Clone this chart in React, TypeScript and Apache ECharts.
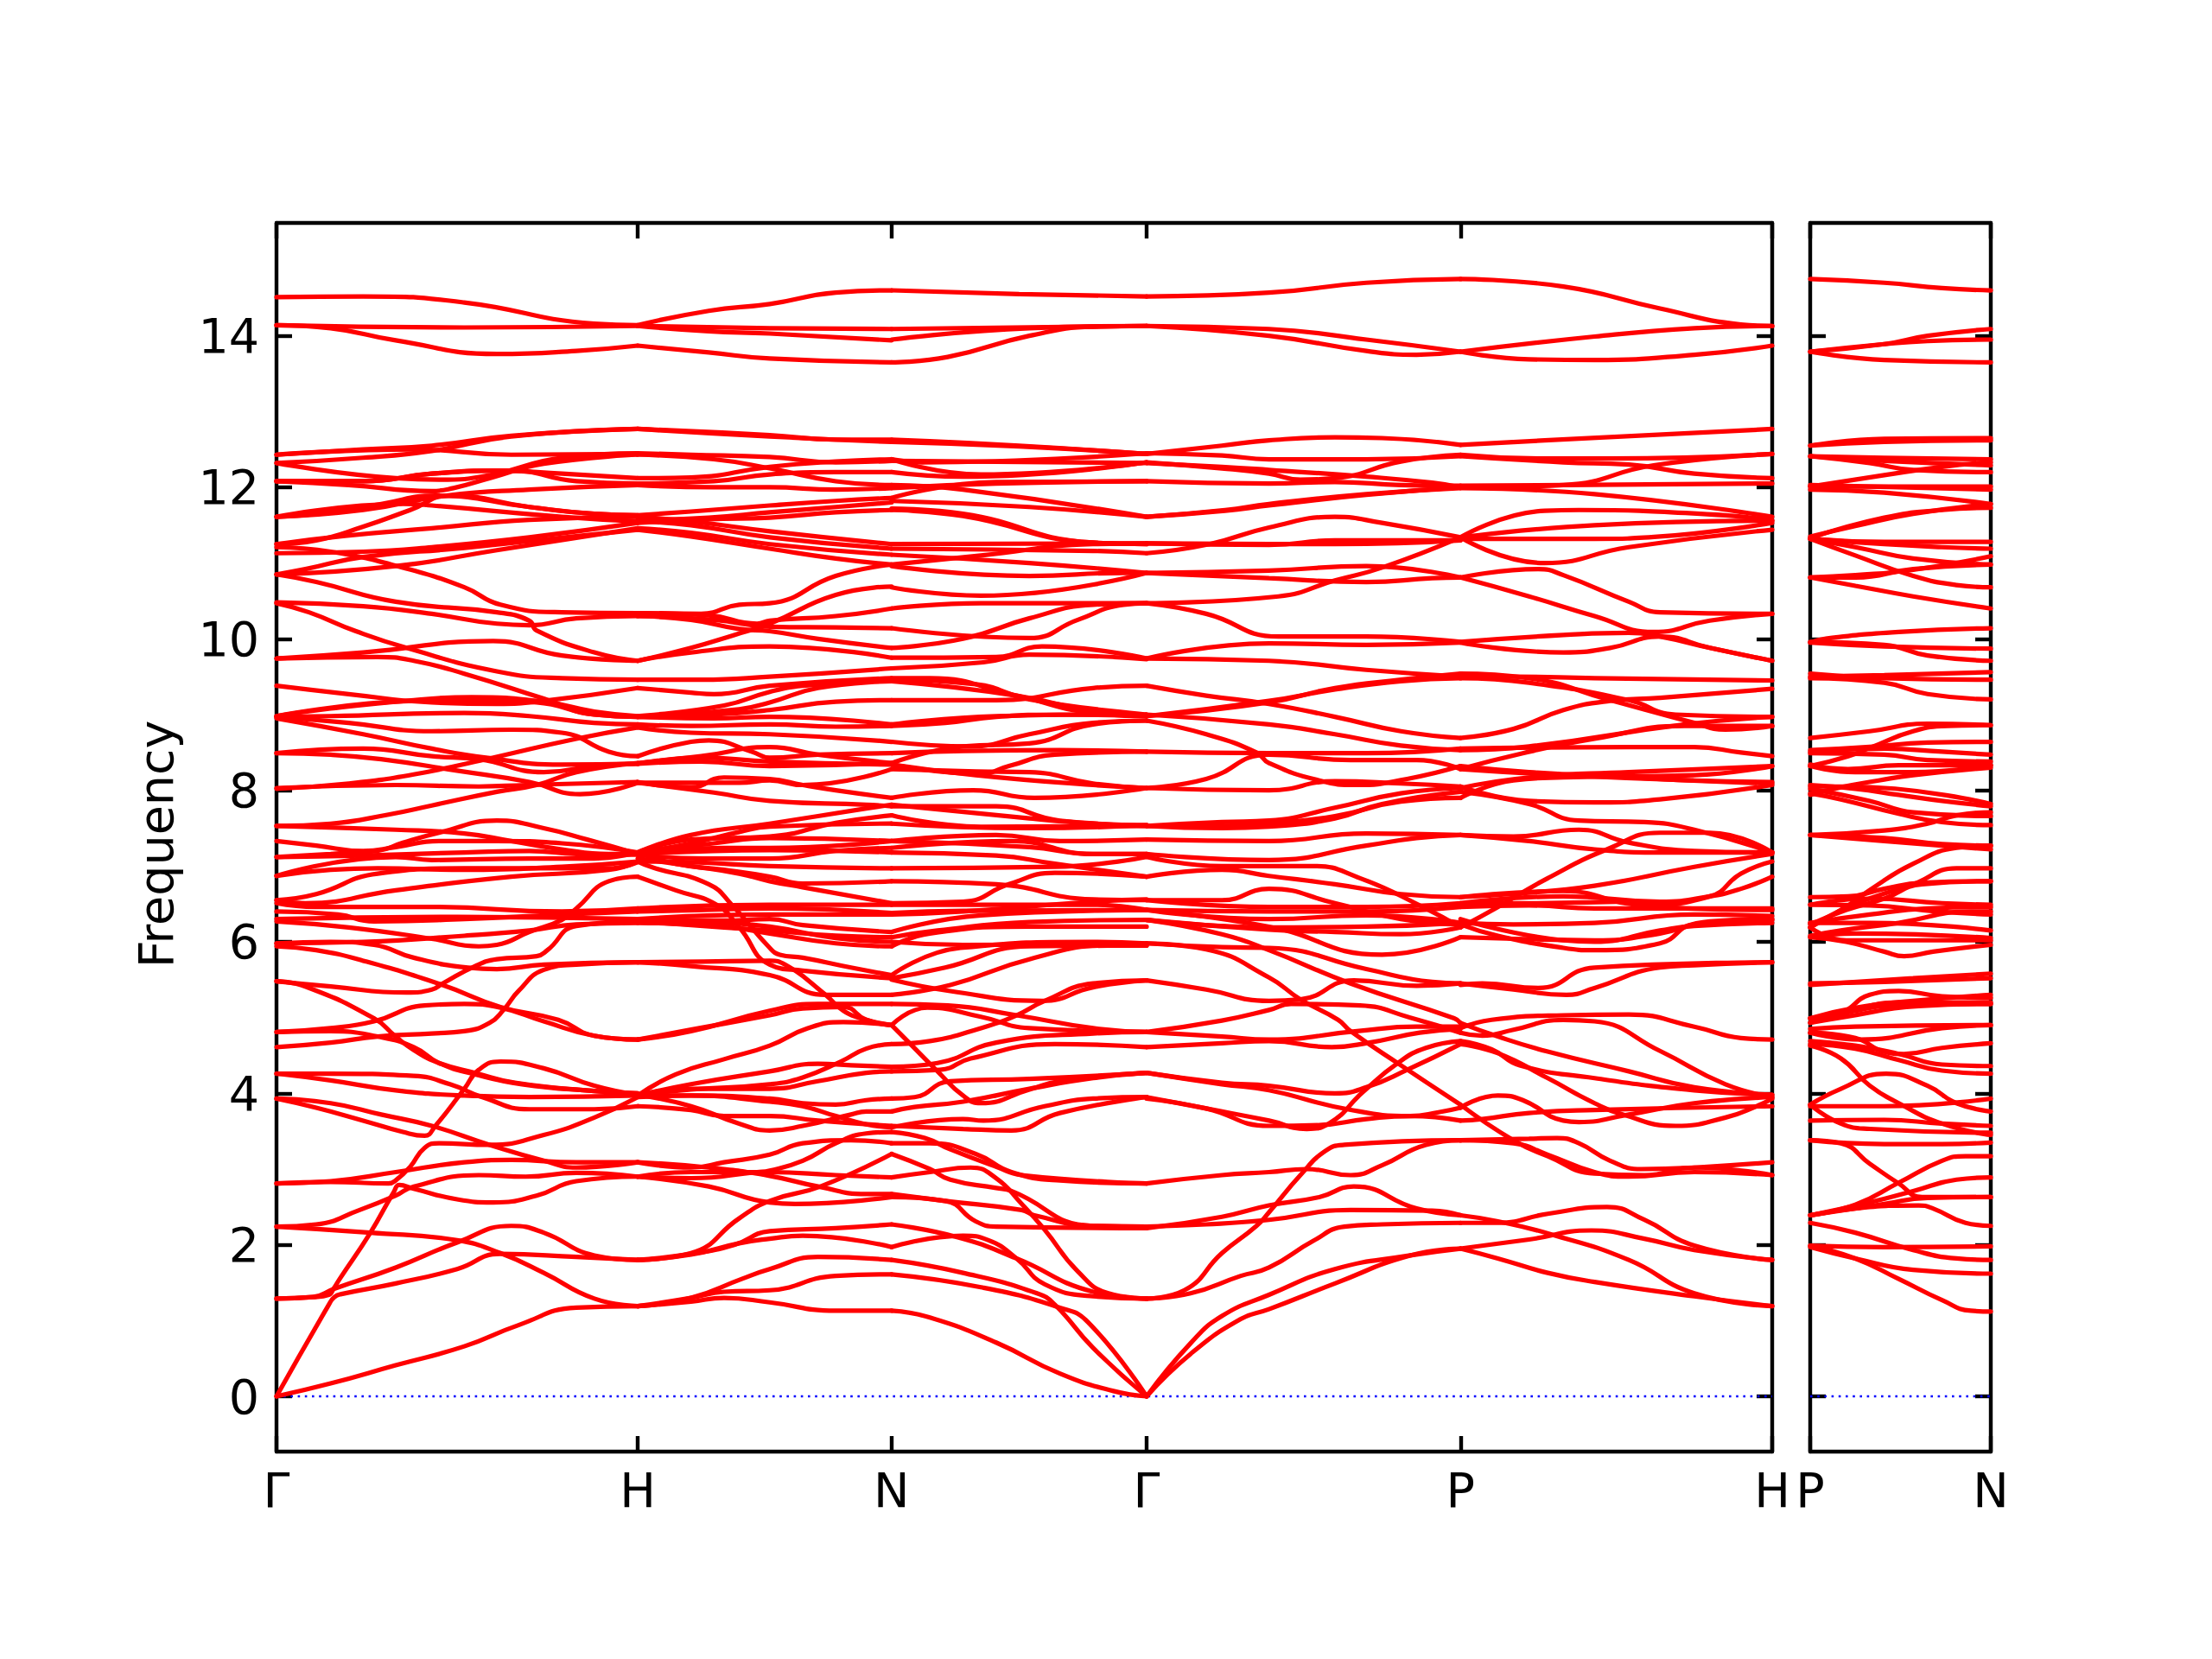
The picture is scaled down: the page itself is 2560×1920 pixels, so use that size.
import React, { useEffect, useRef } from "react";
import * as echarts from "echarts";

const xTicks = [0, 1, 1.703, 2.409, 3.278, 4.141];
const xLabels = ["Γ", "H", "N", "Γ", "P", "H"];
const sideTicks = [0, 0.5];
const sideLabels = ["P", "N"];
const yTicks = [0, 2, 4, 6, 8, 10, 12, 14];

// each row: t (percent along the path segment), frequency, t, frequency ...
const gammaH: number[][] = [
[0,0,15,.17,33,.41,52,.66,67,.94,83,1.17,100,1.19],
[0,0,14.5,1.21,16,1.31,18,1.35,33,1.49,50,1.68,62,1.88,83,1.84,100,1.80],
[0,1.29,10,1.31,14.5,1.34,15.8,1.42,17.5,1.55,26,2.16,32.5,2.7,34,2.79,38,2.74,50,2.6,60,2.56,72,2.65,83,2.84,100,2.9],
[0,1.29,10,1.31,16,1.42,33,1.70,50,2.03,65,2.25,74,2.16,88,1.86,100,1.80],
[0,2.24,26,2.16,50,2.06,62,1.89,74,1.63,88,1.29,100,1.19],
[0,2.24,11,2.27,23,2.46,33,2.65,38,2.77,56,2.92,69,2.9,83,2.95,100,2.9],
[0,2.81,15,2.84,33,2.96,52,3.09,65,3.12,83,3.09,100,3.09],
[0,2.81,15,2.83,31,2.81,33,2.85,37,3.03,41,3.28,45,3.34,59,3.32,74,3.45,88,3.68,100,3.95],
[0,3.93,11,3.81,24,3.64,35,3.49,41,3.44,44,3.57,52,4.06,56,4.31,62,4.42,74,4.33,88,4.10,100,3.98],
[0,3.93,15,3.87,29,3.72,43,3.57,59,3.32,74,3.11,83,3.02,100,3.09],
[0,4.26,15,4.26,38,4.23,48,4.12,57,3.95,70,3.79,88,3.79,100,3.83],
[0,4.26,15,4.17,33,4.04,52,3.97,70,3.95,100,3.97],
[0,4.61,15,4.67,28,4.75,43,4.79,52,4.82,59,4.93,63,5.11,67,5.35,74,5.63,83,5.70,100,5.73],
[0,5.48,8,5.41,27,4.99,33,4.75,38,4.57,45,4.40,55,4.27,66,4.14,88,4.03,100,4.0],
[0,4.81,15,4.82,28,4.75,38,4.61,45,4.40,55,4.25,68,4.12,88,4.03,100,4.0],
[0,4.81,15,4.86,27,4.95,41,5.16,52,5.18,62,5.13,74,4.95,88,4.76,100,4.71],
[0,5.94,11,5.89,24,5.75,46,5.43,62,5.14,78,4.97,88,4.76,100,4.71],
[0,5.98,15,6.0,27,5.96,38,5.79,53,5.66,61,5.64,74,5.70,100,5.73],
[0,5.48,15,5.41,36,5.33,43,5.37,46,5.45,55,5.68,61,5.77,72,5.81,75,5.89,83,6.21,100,6.27],
[0,6.27,20,6.19,43,6.04,56,5.94,61,5.96,70,6.13,79,6.29,83,6.44,92,6.80,100,6.86],
[0,5.98,24,6.0,52,6.08,70,6.15,83,6.23,100,6.25],
[0,6.40,17,6.36,27,6.27,52,6.30,79,6.36,100,6.40],
[0,6.51,11,6.46,43,6.46,79,6.40,100,6.44],
[0,6.30,50,6.33,100,6.30],
[0,6.55,8,6.51,33,6.68,65,6.86,92,6.95,100,7.06],
[0,6.55,11,6.63,28,6.90,52,6.97,92,6.97,100,7.05],
[0,6.87,15,6.95,28,6.97,52,6.95,79,6.99,100,7.06],
[0,7.12,24,7.14,52,7.18,70,7.2,83,7.16,100,7.15],
[0,6.87,33,7.12,43,7.08,70,7.1,88,7.1,100,7.18],
[0,7.33,11,7.27,24,7.2,33,7.25,45,7.33,61,7.33,79,7.3,100,7.18],
[0,7.53,33,7.48,52,7.43,65,7.33,79,7.22,92,7.16,100,7.16],
[0,7.12,15,7.16,28,7.2,35,7.31,45,7.44,61,7.6,74,7.5,86,7.35,100,7.16],
[0,7.53,15,7.56,31,7.68,43,7.8,61,7.98,72,8.07,83,8.24,100,8.36],
[0,8.49,24,8.55,43,8.45,56,8.41,74,8.24,88,8.32,100,8.35],
[0,8.49,15,8.47,29,8.41,50,8.26,70,8.11,84,7.95,100,8.1],
[0,8.02,20,8.09,38,8.21,58,8.41,83,8.68,100,8.83],
[0,8.03,33,8.07,56,8.05,69,8.07,100,8.11],
[0,8.97,15,8.98,52,9.02,70,8.98,88,8.89,100,8.87],
[0,8.97,20,8.89,43,8.78,65,8.8,79,8.76,92,8.51,100,8.45],
[0,8.95,24,8.74,43,8.55,58,8.43,79,8.34,100,8.35],
[0,8.98,15,9.08,38,9.19,54,9.23,74,9.17,88,9.04,100,8.98],
[0,9.38,20,9.27,43,9.16,61,9.14,74,9.18,100,9.35],
[0,8.98,38,9.18,54,9.19,72,9.16,88,9.0,100,8.97],
[0,9.74,28,9.76,38,9.71,52,9.54,74,9.21,88,9.0,100,8.97],
[0,9.74,24,9.82,60,9.97,79,9.78,100,9.71],
[0,10.47,9,10.35,22,10.1,36,9.88,61,9.57,79,9.48,100,9.46],
[0,10.85,11,10.75,33,10.49,61,10.35,70,10.24,72,10.11,88,9.82,100,9.71],
[0,10.48,24,10.43,43,10.33,61,10.20,70,10.18,83,10.27,100,10.30],
[0,11.21,15,11.15,35,10.94,52,10.68,62,10.45,79,10.35,100,10.34],
[0,10.85,33,10.96,61,11.17,100,11.46],
[0,10.85,8,10.92,24,11.08,52,11.2,100,11.44],
[0,11.13,24,11.15,43,11.21,70,11.34,100,11.53],
[0,11.25,19,11.36,43,11.46,70,11.57,100,11.61],
[0,11.25,11,11.3,24,11.48,37,11.70,48,11.89,70,11.74,88,11.65,100,11.63],
[0,11.61,15,11.67,29,11.78,44,11.89,70,11.74,88,11.65,100,11.63],
[0,11.61,35,11.78,43,11.76,79,11.61,100,11.55],
[0,11.61,24,11.7,47,11.89,70,11.97,100,12.03],
[0,12.08,20,12.03,43,11.95,49,11.99,59,12.12,74,12.31,100,12.43],
[0,12.08,24,12.08,43,12.18,61,12.22,79,12.18,100,12.12],
[0,12.08,24,12.08,43,12.18,65,12.22,83,12.08,100,12.05],
[0,12.32,33,12.12,45,12.1,59,12.16,79,12.39,100,12.45],
[0,12.32,24,12.39,43,12.48,65,12.67,100,12.77],
[0,12.43,24,12.5,43,12.55,65,12.68,100,12.77],
[0,12.43,38,12.5,65,12.43,100,12.44],
[0,14.51,24,14.52,52,14.44,88,14.16,100,14.14],
[0,14.14,52,14.11,100,14.13],
[0,14.14,15,14.1,33,13.94,61,13.76,83,13.8,100,13.87],
];

const hN: number[][] = [
[0,1.19,21,1.25,34,1.30,52,1.24,78,1.13,100,1.13],
[0,1.19,21,1.3,34,1.38,52,1.40,78,1.59,100,1.61],
[0,1.19,21,1.30,41,1.55,52,1.68,71,1.84,100,1.80],
[0,1.80,21,1.88,38,2.0,52,2.18,78,2.22,100,2.27],
[0,1.80,21,1.87,40,2.02,52,2.08,65,2.12,100,1.97],
[0,1.80,21,1.89,40,2.35,52,2.58,72,2.77,100,3.20],
[0,2.90,28,2.77,52,2.56,62,2.54,100,2.63],
[0,3.09,28,3.02,52,2.91,71,2.77,90,2.67,100,2.67],
[0,2.90,21,2.96,40,2.96,52,2.96,78,2.92,100,2.89],
[0,2.90,21,2.88,47,2.96,52,2.98,65,3.11,78,3.34,90,3.47,100,3.49],
[0,3.09,21,3.02,34,3.09,52,3.19,65,3.34,84,3.38,100,3.34],
[0,3.98,21,3.83,40,3.6,52,3.51,65,3.57,84,3.72,90,3.76,100,3.76],
[0,3.83,21,3.78,34,3.70,52,3.70,71,3.64,100,3.57],
[0,3.97,21,3.97,52,3.89,65,3.83,78,3.70,90,3.59,100,3.55],
[0,3.95,21,3.97,52,3.93,65,3.87,78,3.85,90,3.91,100,3.93],
[0,3.98,21,4.06,52,4.06,71,4.16,90,4.27,100,4.29],
[0,3.98,21,4.05,52,4.12,65,4.21,80,4.42,90,4.59,100,4.65],
[0,3.97,21,4.12,52,4.29,71,4.39,84,4.37,100,4.35],
[0,3.97,15,4.25,34,4.45,52,4.63,67,4.86,81,4.94,100,4.9],
[0,4.71,21,4.82,52,5.09,71,5.18,100,5.18],
[0,4.71,21,4.84,52,5.03,65,5.12,81,5.14,90,4.97,100,4.9],
[0,5.73,26,5.74,52,5.75,58,5.7,74,5.3,81,5.09,90,4.97,100,4.9],
[0,5.73,21,5.68,52,5.56,74,5.3,100,5.30],
[0,7.06,6,6.98,28,6.76,37,6.49,52,5.92,56,5.83,65,5.79,84,5.66,100,5.56],
[0,6.86,15,6.68,31,6.49,40,6.19,52,5.7,65,5.62,100,5.52],
[0,6.27,34,6.19,52,6.15,78,6.08,100,6.06],
[0,6.25,34,6.2,52,6.11,78,5.98,100,5.94],
[0,6.30,34,6.28,52,6.30,65,6.22,100,6.13],
[0,6.40,26,6.42,52,6.44,100,6.38],
[0,6.44,52,6.49,100,6.49],
[0,6.30,52,6.36,100,6.36],
[0,6.29,34,6.25,52,6.2,78,6.05,100,6.0],
[0,7.18,21,7.41,52,7.56,90,7.76,100,7.81],
[0,7.18,21,7.35,52,7.39,78,7.57,100,7.67],
[0,7.18,21,7.3,40,7.45,52,7.52,100,7.56],
[0,7.18,30,7.3,52,7.37,100,7.33],
[0,7.18,34,7.24,52,7.24,100,7.33],
[0,7.15,26,7.1,52,7.1,78,7.2,100,7.24],
[0,7.16,30,7.2,52,7.21,100,7.18],
[0,7.06,21,7.05,52,7.0,100,6.97],
[0,7.18,15,7.03,34,6.95,52,6.86,65,6.77,100,6.8],
[0,7.1,21,7.0,40,6.9,52,6.8,65,6.72,100,6.51],
[0,8.1,30,7.97,52,7.86,90,7.81,100,7.79],
[0,8.11,21,8.04,34,8.17,52,8.15,65,8.07,78,8.0,100,7.9],
[0,8.1,21,8.1,40,8.1,52,8.13,65,8.07,100,8.28],
[0,8.35,25,8.38,52,8.32,100,8.36],
[0,8.35,25,8.43,52,8.38,100,8.34],
[0,8.45,21,8.64,28,8.66,45,8.51,52,8.43,71,8.47,100,8.49],
[0,8.36,25,8.45,52,8.57,71,8.47,100,8.36],
[0,8.83,21,8.76,52,8.74,100,8.64],
[0,8.87,21,8.85,52,8.87,78,8.84,100,8.85],
[0,8.97,30,8.95,52,8.97,100,8.87],
[0,8.97,30,9.0,52,9.06,78,9.17,100,9.19],
[0,8.97,40,9.07,52,9.16,71,9.35,100,9.44],
[0,8.98,34,9.12,52,9.3,65,9.38,100,9.46],
[0,9.35,21,9.29,30,9.27,52,9.38,100,9.48],
[0,9.46,25,9.46,52,9.5,100,9.61],
[0,9.71,21,9.82,52,9.9,100,9.75],
[0,9.71,21,9.88,38,10.05,52,10.2,78,10.58,100,10.69],
[0,10.30,21,10.25,40,10.13,52,10.1,71,10.0,100,9.88],
[0,10.34,28,10.31,47,10.2,52,10.24,78,10.3,100,10.4],
[0,10.30,30,10.25,52,10.16,78,10.15,100,10.14],
[0,10.34,25,10.33,40,10.45,52,10.47,78,10.83,100,10.98],
[0,11.44,21,11.35,52,11.19,78,11.06,100,10.98],
[0,11.46,21,11.4,52,11.25,100,11.11],
[0,11.55,21,11.5,52,11.34,100,11.19],
[0,11.61,21,11.55,52,11.42,100,11.25],
[0,11.53,28,11.58,52,11.6,78,11.67,100,11.7],
[0,11.57,28,11.6,52,11.67,78,11.74,100,11.8],
[0,11.63,21,11.68,52,11.76,78,11.82,100,11.86],
[0,12.03,30,12.0,52,12.0,78,11.97,100,11.99],
[0,12.05,30,12.08,52,12.17,78,12.2,100,12.2],
[0,12.12,21,12.13,52,12.27,78,12.34,100,12.37],
[0,12.43,30,12.37,52,12.25,78,12.08,100,12.03],
[0,12.45,21,12.43,52,12.4,78,12.33,100,12.35],
[0,12.77,52,12.69,78,12.63,100,12.63],
[0,12.77,52,12.67,100,12.6],
[0,14.13,52,14.1,100,14.09],
[0,14.13,28,14.06,52,14.03,100,13.94],
[0,14.14,28,14.33,52,14.42,78,14.57,100,14.6],
[0,13.87,28,13.78,52,13.7,100,13.65],
];

const nGamma: number[][] = [
[0,1.13,15,1.04,41,.71,66,.30,87,.07,100,0],
[0,1.61,35,1.44,66,1.17,77,.98,100,0],
[0,1.80,28,1.63,57,1.36,64,1.21,79,.64,100,0],
[0,1.97,28,2.12,38,2.06,49,1.82,60,1.48,79,1.32,100,1.29],
[0,2.27,26,2.1,49,1.82,79,1.38,100,1.29],
[0,2.89,15,2.96,31,3.02,41,2.88,51,2.54,60,2.2,73,1.65,85,1.36,100,1.29],
[0,3.20,15,3.0,23,2.86,41,2.75,47,2.71,79,2.25,100,2.24],
[0,2.67,21,2.58,51,2.46,56,2.39,79,2.25,100,2.24],
[0,2.63,21,2.58,33,2.31,41,2.24,100,2.22],
[0,3.34,15,3.34,33,3.2,47,2.96,66,2.85,100,2.81],
[0,3.49,13,3.41,23,3.26,41,3.03,51,2.92,100,2.81],
[0,3.57,28,3.53,47,3.51,66,3.74,100,3.95],
[0,3.55,28,3.66,36,3.64,60,3.83,79,3.93,100,3.95],
[0,3.76,9,3.82,28,3.89,54,4.06,79,4.2,100,4.27],
[0,3.93,9,3.95,23,4.16,54,4.19,100,4.27],
[0,4.9,8,4.63,18,4.29,28,3.97,35,3.87,54,4.05,66,4.16,100,4.27],
[0,4.29,19,4.31,31,4.46,64,4.65,100,4.61],
[0,4.35,18,4.4,41,4.67,79,4.79,100,4.81],
[0,4.65,15,4.69,35,4.86,49,5.03,60,5.22,79,5.45,100,5.49],
[0,5.18,22,5.16,49,5.03,79,4.86,100,4.81],
[0,4.9,14,5.13,35,5.01,54,4.86,100,4.81],
[0,5.3,23,5.43,54,5.77,85,5.95,100,5.95],
[0,5.5,23,5.35,59,5.22,79,5.4,100,5.49],
[0,5.52,21,5.66,54,5.94,100,5.95],
[0,5.56,27,5.92,79,6.0,100,5.98],
[0,5.94,15,6.11,54,6.2,100,6.2],
[0,6.0,28,5.96,100,5.98],
[0,6.06,18,6.15,54,6.26,100,6.29],
[0,6.13,35,6.35,100,6.42],
[0,6.38,28,6.41,100,6.42],
[0,6.36,28,6.4,79,6.53,100,6.56],
[0,6.49,35,6.49,79,6.49,100,6.42],
[0,6.51,28,6.53,46,6.76,64,6.91,100,6.86],
[0,6.8,41,6.76,79,6.56,100,6.55],
[0,6.97,64,6.99,100,7.12],
[0,7.18,41,7.14,64,7.03,100,6.86],
[0,7.33,54,7.25,79,7.16,100,7.16],
[0,7.24,47,7.33,79,7.16,100,7.16],
[0,7.33,41,7.41,66,7.33,100,7.35],
[0,7.56,54,7.5,100,7.54],
[0,7.67,35,7.52,100,7.53],
[0,7.81,54,7.63,79,7.56,100,7.53],
[0,7.79,41,7.79,66,7.6,100,7.54],
[0,7.9,32,8.0,56,7.9,100,8.03],
[0,8.28,33,8.25,54,8.24,79,8.09,100,8.03],
[0,8.34,33,8.2,79,8.07,100,8.03],
[0,8.34,35,8.22,46,8.32,64,8.47,100,8.51],
[0,8.49,28,8.52,66,8.53,100,8.51],
[0,8.36,28,8.58,54,8.62,79,8.87,100,8.92],
[0,8.64,31,8.58,54,8.74,79,8.89,100,8.92],
[0,8.85,21,8.89,41,8.97,66,9.0,100,8.98],
[0,8.87,41,8.98,79,9.0,100,9.0],
[0,9.19,41,9.19,79,9.35,100,9.38],
[0,9.44,49,9.25,79,9.04,100,8.98],
[0,9.48,15,9.48,49,9.25,79,9.02,100,8.98],
[0,9.46,33,9.4,54,9.2,100,9.0],
[0,9.61,36,9.69,54,9.79,100,9.73],
[0,9.75,41,9.76,59,9.9,100,9.74],
[0,9.88,28,10.0,54,10.27,79,10.45,100,10.47],
[0,10.14,54,10.01,73,10.25,91,10.45,100,10.47],
[0,10.4,35,10.47,100,10.47],
[0,10.68,35,10.57,100,10.87],
[0,10.96,54,10.83,91,10.87,100,10.87],
[0,11.11,54,11.0,100,10.87],
[0,10.98,35,11.1,79,11.25,100,11.26],
[0,11.19,79,11.16,100,11.13],
[0,11.25,100,11.26],
[0,11.70,28,11.62,79,11.27,100,11.25],
[0,11.72,28,11.65,79,11.27,100,11.25],
[0,11.82,54,11.74,100,11.61],
[0,12.03,28,11.97,100,11.61],
[0,11.86,41,12.07,100,12.08],
[0,11.99,41,12.05,100,12.08],
[0,12.2,28,12.14,100,12.33],
[0,12.37,35,12.17,100,12.33],
[0,12.35,100,12.32],
[0,12.37,12,12.33,100,12.45],
[0,12.63,50,12.55,100,12.44],
[0,12.6,50,12.54,100,12.44],
[0,14.6,50,14.55,100,14.52],
[0,14.09,100,14.13],
[0,13.95,54,14.1,100,14.13],
[0,13.65,22,13.72,54,14.0,79,14.12,100,14.13],
];

const gammaP: number[][] = [
[0,0,14,.7,24,1.06,39,1.34,60,1.68,84,1.86,100,1.95],
[0,0,14,.56,30,1.02,39,1.15,60,1.49,84,1.86,100,1.95],
[0,1.29,14,1.36,30,1.59,39,1.70,53,2.05,63,2.24,75,2.27,100,2.29],
[0,1.29,12,1.4,24,1.89,35,2.25,39,2.43,49,2.92,57,3.24,63,3.32,100,3.38],
[0,2.24,19,2.27,39,2.33,65,2.46,91,2.45,100,2.39],
[0,2.22,24,2.37,39,2.52,55,2.63,66,2.77,86,2.48,100,2.39],
[0,2.81,24,2.92,39,2.96,51,3.0,65,2.92,75,3.05,89,3.32,100,3.38],
[0,3.95,19,3.8,39,3.64,51,3.53,58,3.6,69,4.02,80,4.4,89,4.6,100,4.69],
[0,3.93,19,3.8,39,3.57,55,3.58,70,3.66,84,3.7,100,3.64],
[0,4.27,24,4.14,39,4.1,60,4.0,70,4.08,83,4.31,100,4.65],
[0,4.27,24,4.12,39,4.04,64,3.79,84,3.70,93,3.75,100,3.81],
[0,4.81,24,4.96,39,5.1,46,5.18,68,5.16,84,5.0,100,4.80],
[0,4.61,24,4.66,39,4.69,59,4.61,71,4.67,87,4.8,100,4.85],
[0,4.81,24,4.75,39,4.71,67,4.82,86,4.88,100,4.88],
[0,5.49,19,5.37,39,5.22,49,5.24,66,5.49,86,5.42,100,5.45],
[0,5.98,19,5.9,39,5.53,49,5.24,61,4.97,65,4.82,81,4.37,100,3.85],
[0,6.29,24,6.1,39,5.89,65,5.45,98,4.99,100,4.93],
[0,5.98,24,5.93,39,5.92,70,5.64,91,5.47,100,5.45],
[0,6.42,39,6.2,75,5.83,100,6.06],
[0,6.29,39,6.19,70,6.2,100,6.25],
[0,6.29,39,6.16,60,6.13,81,6.1,100,6.19],
[0,6.42,39,6.3,70,6.35,100,6.25],
[0,6.42,39,6.4,70,6.4,100,6.46],
[0,6.55,39,6.46,70,6.46,100,6.51],
[0,6.55,24,6.55,39,6.7,60,6.51,81,6.3,100,6.23],
[0,6.86,24,6.95,39,6.87,60,6.76,81,6.63,100,6.59],
[0,7.12,24,7.0,39,7.0,53,7.0,68,6.84,88,6.46,100,6.19],
[0,7.16,39,7.08,70,7.27,86,7.37,100,7.41],
[0,7.35,39,7.33,70,7.43,100,7.41],
[0,7.53,24,7.58,39,7.6,60,7.77,81,7.96,100,8.03],
[0,7.53,24,7.5,39,7.52,60,7.63,75,7.82,100,7.98],
[0,7.53,24,7.53,39,7.56,60,7.66,81,7.85,100,7.9],
[0,8.03,39,8.0,60,8.12,81,8.09,100,8.05],
[0,8.03,19,8.15,39,8.47,65,8.4,86,8.4,100,8.28],
[0,8.92,19,8.74,35,8.5,39,8.36,55,8.13,67,8.07,83,8.15,100,8.32],
[0,8.51,39,8.49,70,8.49,100,8.55],
[0,9.0,39,8.87,60,8.74,81,8.59,100,8.53],
[0,9.38,19,9.25,39,9.14,60,8.97,81,8.78,100,8.69],
[0,8.98,39,9.16,60,9.35,81,9.46,100,9.54],
[0,8.98,39,9.18,60,9.33,81,9.44,100,9.48],
[0,9.74,39,9.71,70,9.59,100,9.5],
[0,9.74,39,9.94,70,9.92,100,9.95],
[0,10.47,19,10.33,42,10.03,70,10.03,100,9.96],
[0,10.47,42,10.56,60,10.77,75,10.94,100,11.34],
[0,10.87,39,10.9,70,10.96,100,10.81],
[0,10.87,39,10.8,70,10.75,91,10.8,100,10.81],
[0,11.26,39,11.25,60,11.25,100,11.3],
[0,11.26,39,11.24,60,11.3,100,11.3],
[0,11.13,20,11.25,39,11.47,60,11.61,75,11.53,100,11.34],
[0,11.61,25,11.7,39,11.78,70,11.91,100,11.99],
[0,11.61,25,11.69,39,11.76,70,11.9,100,12.0],
[0,12.08,39,12.05,60,12.07,81,12.03,100,12.02],
[0,12.32,24,12.27,39,12.23,70,12.14,91,12.06,100,12.0],
[0,12.33,24,12.25,39,12.18,49,12.1,60,12.12,81,12.34,100,12.43],
[0,12.45,24,12.42,39,12.37,70,12.37,100,12.41],
[0,12.44,24,12.55,39,12.62,60,12.66,75,12.65,100,12.56],
[0,14.52,39,14.57,70,14.7,100,14.75],
[0,14.13,39,14.09,70,13.95,100,13.79],
[0,14.13,39,14.0,70,13.8,86,13.75,100,13.79],
];

const pH: number[][] = [
[0,1.95,12,1.82,28,1.63,43,1.51,75,1.32,100,1.19],
[0,1.95,22,2.07,42,2.19,59,2.08,75,1.93,100,1.8],
[0,2.39,12,2.31,29,2.14,54,1.8,75,1.36,100,1.19],
[0,2.29,12,2.29,28,2.41,47,2.5,59,2.33,75,1.99,100,1.8],
[0,3.38,22,3.4,31,3.41,38,3.34,48,3.11,58,3.0,75,3.02,100,3.09],
[0,3.38,17,3.34,28,3.19,43,2.96,54,2.9,75,2.96,100,2.92],
[0,3.85,17,3.38,28,3.17,43,2.94,59,2.92,75,3.02,100,2.92],
[0,3.64,7,3.66,22,3.74,43,3.78,100,3.83],
[0,3.81,12,3.97,20,3.91,33,3.64,38,3.62,54,3.72,75,3.87,100,3.95],
[0,4.69,10,4.58,19,4.37,43,4.2,75,4.04,100,3.98],
[0,4.65,12,4.53,28,4.2,43,3.87,52,3.72,69,3.57,85,3.68,95,3.83,100,3.93],
[0,4.93,12,4.75,28,4.55,54,4.29,75,4.08,100,3.98],
[0,4.8,7,4.76,17,4.84,33,4.97,43,4.95,64,4.56,85,4.12,100,3.95],
[0,4.86,10,4.97,33,5.03,54,5.04,75,4.88,90,4.73,100,4.71],
[0,5.45,17,5.37,34,5.3,43,5.39,64,5.66,75,5.69,100,5.73],
[0,5.43,7,5.45,25,5.39,43,5.66,100,5.73],
[0,6.19,12,6.46,28,6.84,47,7.22,64,7.44,80,7.44,100,7.18],
[0,6.23,12,6.08,33,5.92,43,5.89,64,5.98,75,6.23,100,6.29],
[0,6.06,17,6.04,43,6.02,64,6.11,80,6.27,100,6.3],
[0,6.25,17,6.23,43,6.25,75,6.36,100,6.34],
[0,6.3,33,6.02,43,6.0,64,6.15,75,6.21,100,6.25],
[0,6.46,22,6.48,43,6.44,100,6.44],
[0,6.51,22,6.51,59,6.53,72,6.44,100,6.42],
[0,6.59,16,6.63,43,6.74,75,6.99,100,7.16],
[0,6.59,33,6.67,59,6.49,80,6.6,90,6.9,100,7.06],
[0,6.51,33,6.6,64,6.53,80,6.6,90,6.7,100,6.86],
[0,7.41,17,7.39,38,7.48,54,7.31,75,7.2,100,7.18],
[0,7.41,22,7.33,43,7.22,64,7.18,100,7.18],
[0,7.98,22,7.82,38,7.6,59,7.58,75,7.48,100,7.18],
[0,8.05,22,7.86,43,7.84,64,7.88,100,8.07],
[0,8.03,22,8.17,54,8.24,100,8.32],
[0,7.9,17,8.13,33,8.17,75,8.2,100,8.32],
[0,8.32,22,8.24,54,8.17,85,8.11,100,8.09],
[0,8.28,33,8.2,75,8.13,100,8.11],
[0,8.55,54,8.57,75,8.57,90,8.5,100,8.45],
[0,8.28,20,8.49,43,8.68,72,8.85,100,8.85],
[0,8.53,22,8.58,72,8.87,100,8.97],
[0,8.69,17,8.81,33,9.06,48,9.18,64,9.22,100,9.34],
[0,9.5,17,9.5,43,9.48,100,9.45],
[0,9.54,22,9.48,48,9.19,75,8.89,85,8.8,100,8.85],
[0,9.48,22,9.42,54,9.19,69,9.0,100,8.97],
[0,9.95,33,9.82,48,9.88,64,10.03,80,9.88,100,9.71],
[0,9.96,33,10.05,54,10.08,64,10.03,80,9.88,100,9.71],
[0,10.81,22,10.56,43,10.3,62,10.09,80,10.24,100,10.33],
[0,10.81,25,10.92,33,10.84,54,10.49,64,10.35,100,10.33],
[0,11.34,27,11.0,54,11.21,100,11.44],
[0,11.32,43,11.32,64,11.35,100,11.53],
[0,11.34,43,11.5,100,11.56],
[0,11.34,27,11.69,38,11.7,85,11.63,100,11.56],
[0,11.99,43,11.91,100,11.61],
[0,12.02,100,12.05],
[0,12.0,33,12.03,62,12.29,100,12.44],
[0,12.43,27,12.38,48,12.38,100,12.44],
[0,12.41,33,12.33,54,12.3,75,12.18,100,12.12],
[0,12.56,27,12.62,100,12.77],
[0,14.75,33,14.65,64,14.36,90,14.15,100,14.13],
[0,13.79,43,13.99,75,14.1,100,14.13],
[0,13.79,22,13.69,43,13.68,75,13.75,100,13.87],
];

const pN: number[][] = [
[0,1.99,25,1.82,49,1.55,73,1.27,89,1.13,100,1.12],
[0,1.97,25,1.82,57,1.67,100,1.62],
[0,1.99,41,1.97,100,1.98],
[0,2.29,25,2.16,57,1.93,81,1.82,100,1.8],
[0,2.39,25,2.48,60,2.52,68,2.48,86,2.29,100,2.25],
[0,2.39,41,2.54,65,2.62,100,2.63],
[0,2.39,33,2.56,57,2.71,81,2.86,100,2.89],
[0,2.39,25,2.53,49,2.82,73,3.11,86,3.17,100,3.17],
[0,3.38,17,3.34,33,3.07,49,2.81,62,2.63,100,2.63],
[0,3.85,17,4.06,42,4.26,65,4.1,81,3.87,100,3.76],
[0,3.83,41,3.83,100,3.93],
[0,3.85,17,3.6,33,3.53,100,3.48],
[0,3.64,41,3.65,73,3.6,100,3.57],
[0,3.38,41,3.33,73,3.33,100,3.35],
[0,4.63,17,4.46,33,4.1,49,3.87,73,3.6,100,3.45],
[0,4.65,25,4.59,49,4.44,73,4.3,100,4.26],
[0,4.69,25,4.63,49,4.52,73,4.38,100,4.36],
[0,4.8,25,4.73,41,4.55,52,4.52,73,4.6,100,4.66],
[0,4.85,25,4.88,100,4.9],
[0,4.8,28,4.71,73,4.86,100,4.9],
[0,4.93,25,5.09,49,5.16,100,5.18],
[0,4.93,17,5.0,60,5.15,100,5.18],
[0,4.99,17,5.06,33,5.3,49,5.35,73,5.28,100,5.26],
[0,4.99,25,5.13,57,5.22,100,5.3],
[0,4.99,17,5.06,49,5.2,100,5.2],
[0,5.43,57,5.52,100,5.58],
[0,5.45,41,5.47,100,5.52],
[0,6.19,21,6.48,34,6.7,57,7.03,81,7.24,100,7.27],
[0,6.19,23,6.48,57,6.76,81,6.97,100,6.97],
[0,6.23,20,6.42,41,6.57,62,6.76,100,6.8],
[0,6.59,21,6.6,41,6.7,62,6.78,100,6.8],
[0,6.49,33,6.57,73,6.51,100,6.49],
[0,6.49,33,6.48,70,6.4,100,6.36],
[0,6.25,33,6.36,65,6.44,100,6.46],
[0,6.25,33,6.25,100,6.15],
[0,6.08,17,6.15,49,6.25,89,6.4,100,6.4],
[0,6.06,25,6.11,100,6.05],
[0,6.06,20,6.0,41,5.87,52,5.81,68,5.87,100,5.96],
[0,6.19,20,6.02,100,6.02],
[0,7.41,41,7.47,65,7.56,81,7.67,100,7.71],
[0,7.41,41,7.37,73,7.29,100,7.27],
[0,7.41,41,7.33,100,7.22],
[0,7.96,17,7.88,49,7.69,73,7.58,100,7.54],
[0,8.02,33,7.86,57,7.71,100,7.66],
[0,8.07,25,8.02,49,7.94,73,7.86,100,7.79],
[0,8.05,21,8.05,100,7.82],
[0,7.94,17,8.04,38,8.13,57,8.2,100,8.3],
[0,8.34,21,8.28,49,8.33,100,8.33],
[0,8.32,25,8.24,57,8.24,100,8.33],
[0,8.32,21,8.45,34,8.57,57,8.78,76,8.85,100,8.86],
[0,8.53,31,8.57,65,8.63,100,8.64],
[0,8.51,41,8.55,73,8.51,100,8.47],
[0,8.49,41,8.47,65,8.4,100,8.38],
[0,8.69,33,8.78,65,8.88,100,8.86],
[0,9.48,41,9.42,65,9.27,100,9.2],
[0,9.54,41,9.48,100,9.46],
[0,9.5,41,9.52,100,9.56],
[0,9.96,41,9.92,65,9.78,100,9.71],
[0,9.95,41,9.9,100,9.87],
[0,9.95,8,10.0,49,10.09,100,10.14],
[0,10.81,25,10.7,57,10.56,100,10.4],
[0,10.81,25,10.81,57,10.92,100,10.98],
[0,10.81,25,10.84,57,10.91,100,11.09],
[0,11.32,25,11.21,57,11.06,100,10.98],
[0,11.32,25,11.1,57,10.83,81,10.71,100,10.68],
[0,11.32,41,11.28,100,11.28],
[0,11.32,41,11.25,73,11.21,100,11.19],
[0,11.35,25,11.49,57,11.65,100,11.78],
[0,11.33,41,11.6,73,11.7,100,11.73],
[0,11.97,41,11.93,100,11.78],
[0,12.01,100,12.01],
[0,12.03,100,11.97],
[0,12.01,41,12.16,73,12.27,100,12.33],
[0,12.41,33,12.32,57,12.23,100,12.2],
[0,12.41,41,12.39,100,12.37],
[0,12.41,41,12.35,100,12.29],
[0,12.55,41,12.64,100,12.65],
[0,12.55,41,12.6,100,12.62],
[0,14.75,41,14.7,73,14.63,100,14.6],
[0,13.79,41,13.89,65,14.0,100,14.09],
[0,13.79,41,13.89,65,13.93,100,13.95],
[0,13.79,41,13.68,100,13.65],
];

const FONT = "DejaVu Sans";
const FS = 55.5;
const SPINE = 4.4;
const TICK = 18;

function bandSeries(rows: number[][], a: number, b: number, idx: number) {
  return rows.map((r) => {
    const data: number[][] = [];
    for (let i = 0; i < r.length; i += 2) data.push([a + ((b - a) * r[i]) / 100, r[i + 1]]);
    return {
      type: "line", xAxisIndex: idx, yAxisIndex: idx, data, symbol: "none", smooth: 0.5, silent: true,
      lineStyle: { color: "#ff0000", width: 5.2, cap: "round", join: "round" }, z: 3,
    };
  });
}

function zeroLine(a: number, b: number, idx: number) {
  return {
    type: "line", xAxisIndex: idx, yAxisIndex: idx, data: [[a, 0], [b, 0]], symbol: "none", silent: true,
    lineStyle: { color: "#0000ff", width: 2.6, type: [2.6, 5.6] }, z: 2,
  };
}

function xAxisOf(grid: number, max: number, ticks: number[], labels: string[], pos: string, withLabels: boolean) {
  return {
    type: "value", gridIndex: grid, min: 0, max, position: pos, splitLine: { show: false },
    axisLine: { show: true, onZero: false, lineStyle: { color: "#000", width: SPINE } },
    axisTick: { show: true, inside: true, length: TICK, customValues: ticks, lineStyle: { color: "#000", width: SPINE } },
    axisLabel: {
      show: withLabels, customValues: ticks, margin: 16, color: "#000", fontFamily: FONT, fontSize: FS,
      hideOverlap: false, showMinLabel: true, showMaxLabel: true,
      formatter: (v: number) => {
        let best = 0;
        ticks.forEach((t, i) => { if (Math.abs(t - v) < Math.abs(ticks[best] - v)) best = i; });
        return labels[best];
      },
    },
  };
}

function yAxisOf(grid: number, pos: string, withLabels: boolean, name?: string) {
  return {
    type: "value", gridIndex: grid, min: -0.73, max: 15.49, position: pos, splitLine: { show: false },
    name, nameLocation: "middle", nameGap: 112,
    nameTextStyle: { color: "#000", fontFamily: FONT, fontSize: FS, padding: [0, 16, 0, 0] },
    axisLine: { show: true, onZero: false, lineStyle: { color: "#000", width: SPINE } },
    axisTick: { show: true, inside: true, length: TICK, customValues: yTicks, lineStyle: { color: "#000", width: SPINE } },
    axisLabel: {
      show: withLabels, customValues: yTicks, margin: 20, color: "#000", fontFamily: FONT, fontSize: FS,
      padding: [5, 0, 0, 0],
      formatter: (v: number) => String(Math.round(v)),
    },
  };
}

export default function App() {
  const ref = useRef<HTMLDivElement>(null);
  useEffect(() => {
    const chart = echarts.init(ref.current!, undefined, { renderer: "svg" });
    const end = xTicks[xTicks.length - 1];
    const series: any[] = [zeroLine(0, end, 0), zeroLine(0, 0.5, 2)];
    const segs = [gammaH, hN, nGamma, gammaP, pH];
    segs.forEach((rows, i) => series.push(...bandSeries(rows, xTicks[i], xTicks[i + 1], 0)));
    series.push(...bandSeries(pN, 0, 0.5, 2));
    chart.setOption({
      animation: false,
      backgroundColor: "#fff",
      grid: [
        { left: 320, top: 258, width: 1731, height: 1422 },
        { left: 2095, top: 258, width: 209, height: 1422 },
      ],
      xAxis: [
        xAxisOf(0, end, xTicks, xLabels, "bottom", true),
        xAxisOf(0, end, xTicks, xLabels, "top", false),
        xAxisOf(1, 0.5, sideTicks, sideLabels, "bottom", true),
        xAxisOf(1, 0.5, sideTicks, sideLabels, "top", false),
      ],
      yAxis: [
        yAxisOf(0, "left", true, "Frequency"),
        yAxisOf(0, "right", false),
        yAxisOf(1, "left", false),
        yAxisOf(1, "right", false),
      ],
      series,
    });
    return () => chart.dispose();
  }, []);
  return <div ref={ref} style={{ position: "absolute", left: 0, top: 0, width: 2560, height: 1920 }} />;
}
